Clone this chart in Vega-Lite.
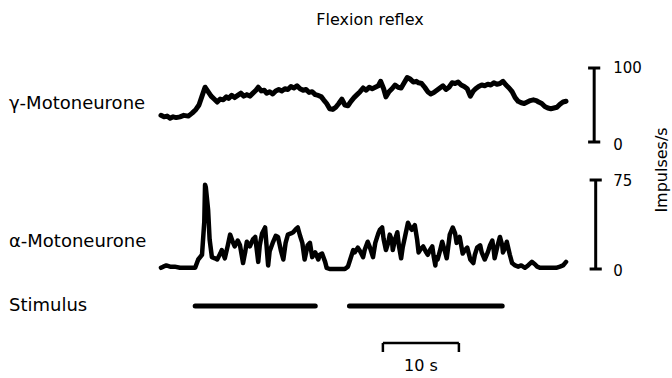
{
  "$schema": "https://vega.github.io/schema/vega-lite/v6.json",
  "width": 672,
  "height": 348,
  "autosize": {"type": "none"},
  "padding": {"top": 30, "left": 0, "right": 0, "bottom": 0},
  "background": "white",
  "title": {"text": "Flexion reflex", "font": "DejaVu Sans", "fontSize": 16, "fontWeight": "normal", "color": "black", "anchor": "middle", "baseline": "bottom", "offset": 5, "dx": 34, "dy": 19},
  "config": {"view": {"stroke": null}, "font": "DejaVu Sans"},
  "datasets": {
    "gamma": [
      {"t":0.0,"r":36},{"t":0.4,"r":34},{"t":0.8,"r":35},{"t":1.2,"r":32},{"t":1.6,"r":34},{"t":2.0,"r":33},{"t":2.5,"r":34},{"t":3.0,"r":36},{"t":3.6,"r":35},{"t":4.1,"r":39},{"t":4.6,"r":44},{"t":5.0,"r":50},{"t":5.4,"r":62},{"t":5.8,"r":74},{"t":6.2,"r":68},{"t":6.6,"r":62},{"t":7.0,"r":58},{"t":7.4,"r":54},{"t":7.8,"r":58},{"t":8.2,"r":57},{"t":8.6,"r":61},{"t":8.9,"r":59},{"t":9.3,"r":63},{"t":9.7,"r":60},{"t":10.1,"r":63},{"t":10.5,"r":66},{"t":10.9,"r":62},{"t":11.3,"r":64},{"t":11.7,"r":62},{"t":12.1,"r":66},{"t":12.5,"r":70},{"t":12.8,"r":74},{"t":13.2,"r":69},{"t":13.6,"r":70},{"t":13.9,"r":66},{"t":14.3,"r":68},{"t":14.7,"r":65},{"t":15.1,"r":69},{"t":15.5,"r":71},{"t":15.9,"r":69},{"t":16.3,"r":72},{"t":16.7,"r":71},{"t":17.1,"r":75},{"t":17.5,"r":73},{"t":17.9,"r":76},{"t":18.3,"r":72},{"t":18.7,"r":70},{"t":19.1,"r":71},{"t":19.5,"r":67},{"t":19.9,"r":68},{"t":20.3,"r":64},{"t":20.7,"r":63},{"t":21.1,"r":61},{"t":21.4,"r":57},{"t":21.8,"r":52},{"t":22.2,"r":45},{"t":22.6,"r":44},{"t":23.0,"r":47},{"t":23.4,"r":52},{"t":23.8,"r":58},{"t":24.2,"r":50},{"t":24.6,"r":49},{"t":25.0,"r":55},{"t":25.4,"r":60},{"t":25.8,"r":64},{"t":26.2,"r":68},{"t":26.6,"r":73},{"t":27.0,"r":70},{"t":27.4,"r":74},{"t":27.8,"r":72},{"t":28.2,"r":74},{"t":28.6,"r":76},{"t":28.9,"r":82},{"t":29.3,"r":72},{"t":29.6,"r":61},{"t":30.0,"r":68},{"t":30.4,"r":72},{"t":30.8,"r":77},{"t":31.2,"r":74},{"t":31.6,"r":73},{"t":32.0,"r":80},{"t":32.4,"r":87},{"t":32.8,"r":85},{"t":33.2,"r":81},{"t":33.6,"r":82},{"t":33.9,"r":80},{"t":34.3,"r":79},{"t":34.7,"r":74},{"t":35.1,"r":68},{"t":35.5,"r":65},{"t":35.9,"r":67},{"t":36.3,"r":70},{"t":36.7,"r":73},{"t":37.1,"r":76},{"t":37.5,"r":71},{"t":37.9,"r":74},{"t":38.3,"r":80},{"t":38.7,"r":79},{"t":39.1,"r":81},{"t":39.5,"r":77},{"t":39.9,"r":75},{"t":40.3,"r":72},{"t":40.7,"r":62},{"t":41.1,"r":69},{"t":41.4,"r":72},{"t":41.8,"r":75},{"t":42.2,"r":77},{"t":42.6,"r":76},{"t":43.0,"r":78},{"t":43.4,"r":77},{"t":43.8,"r":80},{"t":44.2,"r":78},{"t":44.6,"r":79},{"t":45.0,"r":82},{"t":45.4,"r":77},{"t":45.8,"r":73},{"t":46.2,"r":68},{"t":46.6,"r":60},{"t":47.0,"r":55},{"t":47.4,"r":53},{"t":47.8,"r":52},{"t":48.2,"r":54},{"t":48.6,"r":56},{"t":49.0,"r":57},{"t":49.4,"r":56},{"t":49.7,"r":54},{"t":50.1,"r":52},{"t":50.5,"r":48},{"t":50.9,"r":46},{"t":51.3,"r":45},{"t":51.7,"r":46},{"t":52.1,"r":47},{"t":52.5,"r":51},{"t":52.9,"r":54},{"t":53.3,"r":55}
    ],
    "alpha": [
      {"t":0.0,"r":1},{"t":0.3,"r":2},{"t":0.7,"r":3},{"t":1.2,"r":2},{"t":1.8,"r":2},{"t":2.5,"r":1},{"t":3.2,"r":1},{"t":3.8,"r":1},{"t":4.5,"r":1},{"t":4.9,"r":8},{"t":5.4,"r":12},{"t":5.7,"r":40},{"t":5.8,"r":71},{"t":5.9,"r":69},{"t":6.2,"r":50},{"t":6.4,"r":25},{"t":6.7,"r":10},{"t":7.1,"r":9},{"t":7.4,"r":8},{"t":7.8,"r":13},{"t":8.0,"r":16},{"t":8.4,"r":9},{"t":8.8,"r":20},{"t":9.1,"r":29},{"t":9.5,"r":22},{"t":9.7,"r":19},{"t":10.1,"r":24},{"t":10.4,"r":20},{"t":10.8,"r":5},{"t":11.1,"r":15},{"t":11.3,"r":23},{"t":11.7,"r":19},{"t":12.1,"r":25},{"t":12.4,"r":27},{"t":12.8,"r":6},{"t":13.0,"r":20},{"t":13.3,"r":30},{"t":13.7,"r":35},{"t":14.1,"r":3},{"t":14.3,"r":15},{"t":14.7,"r":22},{"t":15.1,"r":28},{"t":15.4,"r":27},{"t":15.8,"r":15},{"t":16.1,"r":8},{"t":16.4,"r":22},{"t":16.7,"r":29},{"t":17.1,"r":30},{"t":17.4,"r":31},{"t":17.8,"r":34},{"t":18.0,"r":35},{"t":18.3,"r":28},{"t":18.6,"r":22},{"t":18.9,"r":8},{"t":19.3,"r":20},{"t":19.6,"r":22},{"t":19.9,"r":10},{"t":20.3,"r":14},{"t":20.7,"r":8},{"t":20.9,"r":12},{"t":21.2,"r":13},{"t":21.6,"r":6},{"t":21.8,"r":1},{"t":22.2,"r":0},{"t":22.9,"r":0},{"t":23.6,"r":0},{"t":24.2,"r":0},{"t":24.6,"r":2},{"t":24.9,"r":8},{"t":25.3,"r":16},{"t":25.5,"r":14},{"t":25.9,"r":18},{"t":26.2,"r":15},{"t":26.6,"r":10},{"t":26.8,"r":16},{"t":27.2,"r":23},{"t":27.5,"r":18},{"t":27.9,"r":10},{"t":28.2,"r":22},{"t":28.6,"r":30},{"t":28.8,"r":33},{"t":29.1,"r":35},{"t":29.3,"r":25},{"t":29.6,"r":16},{"t":29.9,"r":22},{"t":30.1,"r":29},{"t":30.4,"r":24},{"t":30.5,"r":16},{"t":30.8,"r":25},{"t":31.1,"r":31},{"t":31.3,"r":20},{"t":31.6,"r":9},{"t":31.8,"r":18},{"t":32.1,"r":27},{"t":32.5,"r":39},{"t":32.8,"r":35},{"t":33.0,"r":33},{"t":33.3,"r":36},{"t":33.4,"r":37},{"t":33.7,"r":25},{"t":33.9,"r":14},{"t":34.2,"r":17},{"t":34.5,"r":19},{"t":34.9,"r":14},{"t":35.1,"r":12},{"t":35.4,"r":16},{"t":35.7,"r":19},{"t":35.9,"r":10},{"t":36.1,"r":3},{"t":36.2,"r":10},{"t":36.4,"r":8},{"t":36.7,"r":15},{"t":37.0,"r":23},{"t":37.4,"r":14},{"t":37.6,"r":9},{"t":38.0,"r":29},{"t":38.4,"r":35},{"t":38.7,"r":30},{"t":38.9,"r":22},{"t":39.3,"r":27},{"t":39.7,"r":13},{"t":40.0,"r":16},{"t":40.3,"r":18},{"t":40.7,"r":8},{"t":41.1,"r":5},{"t":41.3,"r":12},{"t":41.6,"r":18},{"t":42.0,"r":20},{"t":42.2,"r":14},{"t":42.6,"r":8},{"t":43.0,"r":14},{"t":43.3,"r":20},{"t":43.6,"r":24},{"t":43.8,"r":15},{"t":43.9,"r":9},{"t":44.3,"r":20},{"t":44.6,"r":27},{"t":44.9,"r":20},{"t":45.0,"r":14},{"t":45.3,"r":18},{"t":45.5,"r":23},{"t":45.9,"r":12},{"t":46.2,"r":5},{"t":46.6,"r":3},{"t":47.0,"r":2},{"t":47.4,"r":3},{"t":47.9,"r":1},{"t":48.3,"r":3},{"t":48.8,"r":6},{"t":49.2,"r":4},{"t":49.5,"r":2},{"t":49.9,"r":1},{"t":50.3,"r":1},{"t":50.9,"r":1},{"t":51.4,"r":1},{"t":52.0,"r":1},{"t":52.5,"r":2},{"t":52.9,"r":3},{"t":53.3,"r":6}
    ]
  },
  "layer": [
    {
      "layer": [
        {
          "data": {"name": "gamma"},
          "mark": {"type": "line", "color": "black", "strokeWidth": 5, "strokeJoin": "round", "strokeCap": "round"},
          "encoding": {
            "x": {"field": "t", "type": "quantitative", "scale": {"domain": [-21.18, 67.24], "nice": false, "zero": false}, "axis": null},
            "y": {"field": "r", "type": "quantitative", "scale": {"domain": [-318.92, 151.35], "nice": false, "zero": false}, "axis": null}
          }
        },
        {
          "data": {"values": [{"t": 57.0, "lo": 0, "hi": 100}]},
          "mark": {"type": "rule", "color": "black", "strokeWidth": 3},
          "encoding": {
            "x": {"field": "t", "type": "quantitative"},
            "y": {"field": "lo", "type": "quantitative"},
            "y2": {"field": "hi"}
          }
        },
        {
          "data": {"values": [{"t0": 56.2, "t1": 57.8, "r": 0}, {"t0": 56.2, "t1": 57.8, "r": 100}]},
          "mark": {"type": "rule", "color": "black", "strokeWidth": 3},
          "encoding": {
            "x": {"field": "t0", "type": "quantitative"},
            "x2": {"field": "t1"},
            "y": {"field": "r", "type": "quantitative"}
          }
        },
        {
          "data": {"values": [{"t": 59.5, "r": 100, "label": "100"}, {"t": 59.5, "r": -4, "label": "0"}]},
          "mark": {"type": "text", "align": "left", "baseline": "middle", "fontSize": 15, "color": "black"},
          "encoding": {
            "x": {"field": "t", "type": "quantitative"},
            "y": {"field": "r", "type": "quantitative"},
            "text": {"field": "label"}
          }
        },
        {
          "data": {"values": [{"t": -20.0, "r": 52, "label": "γ-Motoneurone"}]},
          "mark": {"type": "text", "align": "left", "baseline": "middle", "fontSize": 18, "color": "black"},
          "encoding": {
            "x": {"field": "t", "type": "quantitative"},
            "y": {"field": "r", "type": "quantitative"},
            "text": {"field": "label"}
          }
        }
      ]
    },
    {
      "layer": [
        {
          "data": {"name": "alpha"},
          "mark": {"type": "line", "color": "black", "strokeWidth": 4.5, "strokeJoin": "round", "strokeCap": "round"},
          "encoding": {
            "x": {"field": "t", "type": "quantitative", "scale": {"domain": [-21.18, 67.24], "nice": false, "zero": false}, "axis": null},
            "y": {"field": "r", "type": "quantitative", "scale": {"domain": [-91.85, 201.41], "nice": false, "zero": false}, "axis": null}
          }
        },
        {
          "data": {"values": [{"t": 57.2, "lo": 0, "hi": 75}]},
          "mark": {"type": "rule", "color": "black", "strokeWidth": 3},
          "encoding": {
            "x": {"field": "t", "type": "quantitative"},
            "y": {"field": "lo", "type": "quantitative"},
            "y2": {"field": "hi"}
          }
        },
        {
          "data": {"values": [{"t0": 56.4, "t1": 58.0, "r": 0}, {"t0": 56.4, "t1": 58.0, "r": 75}]},
          "mark": {"type": "rule", "color": "black", "strokeWidth": 3},
          "encoding": {
            "x": {"field": "t0", "type": "quantitative"},
            "x2": {"field": "t1"},
            "y": {"field": "r", "type": "quantitative"}
          }
        },
        {
          "data": {"values": [{"t": 59.5, "r": 74, "label": "75"}, {"t": 59.5, "r": -2, "label": "0"}]},
          "mark": {"type": "text", "align": "left", "baseline": "middle", "fontSize": 15, "color": "black"},
          "encoding": {
            "x": {"field": "t", "type": "quantitative"},
            "y": {"field": "r", "type": "quantitative"},
            "text": {"field": "label"}
          }
        },
        {
          "data": {"values": [{"t": -20.0, "r": 23, "label": "α-Motoneurone"}]},
          "mark": {"type": "text", "align": "left", "baseline": "middle", "fontSize": 18, "color": "black"},
          "encoding": {
            "x": {"field": "t", "type": "quantitative"},
            "y": {"field": "r", "type": "quantitative"},
            "text": {"field": "label"}
          }
        }
      ]
    },
    {
      "layer": [
        {
          "data": {"values": [{"start": 4.5, "end": 20.3, "level": 1}, {"start": 24.8, "end": 44.9, "level": 1}]},
          "mark": {"type": "rule", "color": "black", "strokeWidth": 5, "strokeCap": "round"},
          "encoding": {
            "x": {"field": "start", "type": "quantitative", "scale": {"domain": [-21.18, 67.24], "nice": false, "zero": false}, "axis": null},
            "x2": {"field": "end"},
            "y": {"field": "level", "type": "quantitative", "scale": {"domain": [0, 4.833], "nice": false, "zero": false}, "axis": null}
          }
        },
        {
          "data": {"values": [{"t": -20.0, "level": 1, "label": "Stimulus"}]},
          "mark": {"type": "text", "align": "left", "baseline": "middle", "fontSize": 18, "color": "black"},
          "encoding": {
            "x": {"field": "t", "type": "quantitative"},
            "y": {"field": "level", "type": "quantitative"},
            "text": {"field": "label"}
          }
        },
        {
          "data": {"values": [{"t": 34.2, "level": 0.167, "label": "10 s"}]},
          "mark": {"type": "text", "align": "center", "baseline": "middle", "fontSize": 16, "color": "black"},
          "encoding": {
            "x": {"field": "t", "type": "quantitative"},
            "y": {"field": "level", "type": "quantitative"},
            "text": {"field": "label"}
          }
        },
        {
          "data": {"values": [{"a": 29.2, "b": 39.2, "lo": 0.486, "hi": 0.486}, {"a": 29.2, "b": 29.2, "lo": 0.361, "hi": 0.486}, {"a": 39.2, "b": 39.2, "lo": 0.361, "hi": 0.486}]},
          "mark": {"type": "rule", "color": "black", "strokeWidth": 2.5},
          "encoding": {
            "x": {"field": "a", "type": "quantitative"},
            "x2": {"field": "b"},
            "y": {"field": "lo", "type": "quantitative"},
            "y2": {"field": "hi"}
          }
        },
        {
          "data": {"values": [{"t": 65.9, "level": 2.889, "label": "Impulses/s"}]},
          "mark": {"type": "text", "align": "center", "baseline": "middle", "angle": 270, "fontSize": 16, "color": "black"},
          "encoding": {
            "x": {"field": "t", "type": "quantitative"},
            "y": {"field": "level", "type": "quantitative"},
            "text": {"field": "label"}
          }
        }
      ]
    }
  ],
  "resolve": {"scale": {"y": "independent"}}
}
